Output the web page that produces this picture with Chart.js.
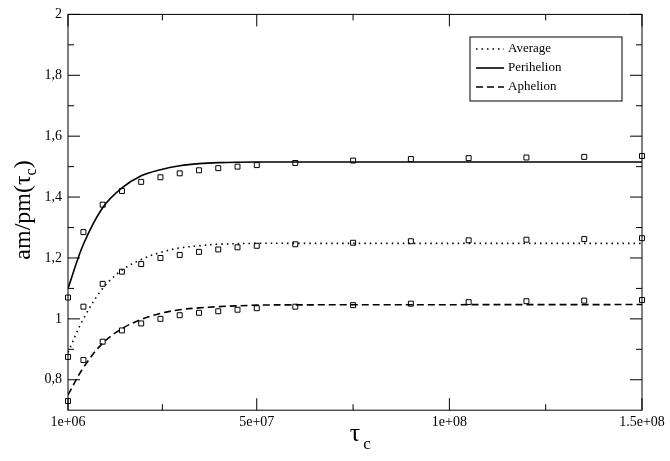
<!DOCTYPE html>
<html><head><script src="https://cdn.jsdelivr.net/npm/chart.js@4"></script>
<style>body{margin:0;background:#fff}#w{width:670px;height:461px}</style></head>
<body><div id="w"><canvas id="c"></canvas></div>
<script>
const tauPts=[1e6,5e6,1e7,1.5e7,2e7,2.5e7,3e7,3.5e7,4e7,4.5e7,5e7,6e7,7.5e7,9e7,1.05e8,1.2e8,1.35e8,1.5e8];
const periPts=[1.07,1.285,1.375,1.42,1.45,1.465,1.478,1.488,1.495,1.5,1.505,1.512,1.52,1.525,1.528,1.53,1.532,1.535];
const avgPts=[0.875,1.04,1.115,1.155,1.18,1.2,1.21,1.22,1.228,1.235,1.24,1.245,1.25,1.255,1.258,1.26,1.262,1.265];
const aphPts=[0.73,0.865,0.925,0.962,0.985,1.0,1.012,1.02,1.025,1.03,1.035,1.04,1.045,1.05,1.055,1.058,1.06,1.062];
const tauLine=[1e6,5e6,1e7,1.5e7,2e7,2.5e7,3e7,3.5e7,4e7,5e7,6e7,1.5e8];
const periLine=[1.1,1.245,1.365,1.43,1.47,1.49,1.503,1.51,1.513,1.515,1.515,1.515];
const avgLine=[0.89,1.0,1.1,1.16,1.195,1.218,1.233,1.24,1.245,1.248,1.248,1.248];
const aphLine=[0.75,0.84,0.92,0.968,0.998,1.018,1.03,1.036,1.04,1.045,1.046,1.047];
const xTicks=[1e6,5e7,1e8,1.5e8];
const xLabels=['1e+06','5e+07','1e+08','1.5e+08'];
const yTicks=[0.8,1,1.2,1.4,1.6,1.8,2];
const legendNames=['Average','Perihelion','Aphelion'];
const dashes=[[1.5,4],[],[7,4]];
const toXY=(xs,ys)=>xs.map((x,i)=>({x,y:ys[i]}));
const F='"Liberation Serif", serif';
const lineDs=(y,dash)=>({type:'line',data:toXY(tauLine,y),borderColor:'#000',borderWidth:1.6,borderDash:dash,pointRadius:0,tension:0.35,fill:false});
const ptDs=y=>({type:'scatter',data:toXY(tauPts,y),pointStyle:'rect',pointRadius:3.5,borderColor:'#000',borderWidth:1,backgroundColor:'rgba(0,0,0,0)',showLine:false,clip:false});
const deco={id:'deco',afterDraw(ch){
 const c=ch.ctx,a=ch.chartArea,xs=ch.scales.x,ys=ch.scales.y;
 c.save();c.strokeStyle='#000';c.lineWidth=1;c.setLineDash([]);
 c.strokeRect(a.left,a.top,a.right-a.left,a.bottom-a.top);
 c.beginPath();
 xTicks.forEach(v=>{const p=xs.getPixelForValue(v);c.moveTo(p,a.bottom);c.lineTo(p,a.bottom-12);c.moveTo(p,a.top);c.lineTo(p,a.top+12);});
 for(let i=0;i<3;i++){const p=xs.getPixelForValue((xTicks[i]+xTicks[i+1])/2);c.moveTo(p,a.bottom);c.lineTo(p,a.bottom-6);c.moveTo(p,a.top);c.lineTo(p,a.top+6);}
 for(let v=0.8;v<2;v+=0.2){const p=ys.getPixelForValue(v);c.moveTo(a.left,p);c.lineTo(a.left+12,p);c.moveTo(a.right,p);c.lineTo(a.right-12,p);}
 for(let v=0.9;v<2;v+=0.2){const p=ys.getPixelForValue(v);c.moveTo(a.left,p);c.lineTo(a.left+6,p);c.moveTo(a.right,p);c.lineTo(a.right-6,p);}
 c.stroke();
 const lx=470,ly=37;c.lineWidth=1;c.strokeRect(lx,ly,152,64);
 c.font='13px '+F;c.fillStyle='#000';c.textBaseline='middle';
 legendNames.forEach((n,i)=>{const y=ly+12+i*19;c.setLineDash(dashes[i]);c.lineWidth=1.6;c.beginPath();c.moveTo(lx+6,y);c.lineTo(lx+34,y);c.stroke();c.fillText(n,lx+38,y);});
 c.setLineDash([]);
 c.textBaseline='alphabetic';c.textAlign='center';
 c.font='26px '+F;c.fillText('τ',355,441);c.font='17px '+F;c.fillText('c',367,449);
 c.translate(30,210);c.rotate(-Math.PI/2);c.textAlign='left';
 c.font='24px '+F;const t1='am/pm(τ';const w1=c.measureText(t1).width;
 c.font='16px '+F;const ws=c.measureText('c').width;c.font='24px '+F;const w2=c.measureText(')').width;
 const x0=-(w1+ws+w2)/2;c.fillText(t1,x0,0);c.font='16px '+F;c.fillText('c',x0+w1,6);c.font='24px '+F;c.fillText(')',x0+w1+ws,0);
 c.restore();}};
new Chart(document.getElementById('c'),{data:{datasets:[lineDs(avgLine,dashes[0]),lineDs(periLine,dashes[1]),lineDs(aphLine,dashes[2]),ptDs(periPts),ptDs(avgPts),ptDs(aphPts)]},
options:{responsive:true,maintainAspectRatio:false,animation:false,layout:{padding:{left:0,right:28,top:0,bottom:26}},
plugins:{legend:{display:false},tooltip:{enabled:false}},
scales:{x:{type:'linear',min:1e6,max:1.5e8,afterBuildTicks:s=>{s.ticks=xTicks.map(v=>({value:v}));},
 ticks:{callback:(v)=>xLabels[xTicks.indexOf(v)],font:{family:F,size:14},color:'#000',maxRotation:0,padding:4},grid:{display:false,drawTicks:false},border:{display:false}},
y:{min:0.7,max:2,afterBuildTicks:s=>{s.ticks=yTicks.map(v=>({value:v}));},afterFit:s=>{s.width=68;},
 ticks:{callback:v=>String(+v.toFixed(1)).replace('.',','),font:{family:F,size:14},color:'#000',padding:6},grid:{display:false,drawTicks:false},border:{display:false}}}},
plugins:[deco]});
</script></body></html>
